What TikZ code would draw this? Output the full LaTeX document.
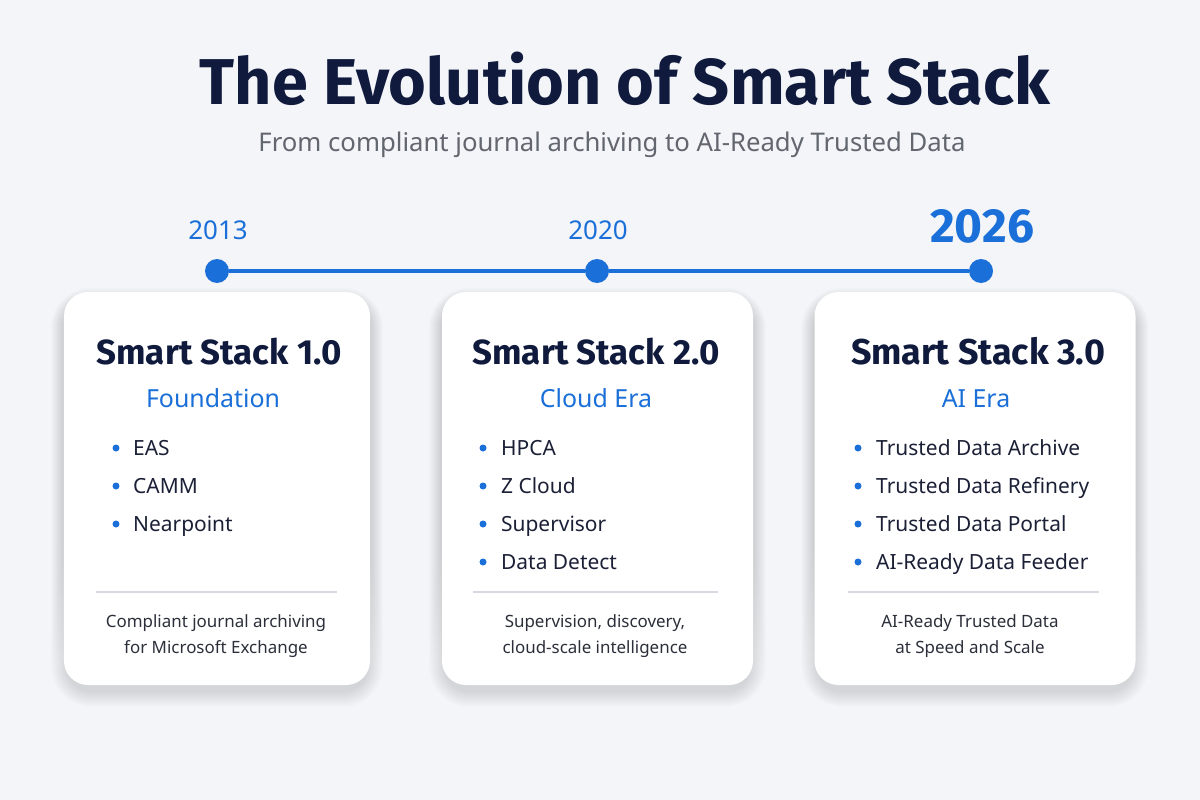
\documentclass[tikz,border=0pt]{standalone}
\usepackage{fontspec}
\setmainfont{Noto Sans}
\newfontfamily\headfont{Fira Sans}
\usetikzlibrary{shadows.blur}

\definecolor{pagebg}{HTML}{F4F5F9}
\definecolor{navy}{HTML}{0F1A3C}
\definecolor{accent}{HTML}{1A6FD8}
\definecolor{subgrey}{HTML}{62666F}
\definecolor{itemtxt}{HTML}{1B2036}
\definecolor{foottxt}{HTML}{2B2F3A}
\definecolor{rulegrey}{HTML}{D6D9DF}
\definecolor{shade}{HTML}{3A4670}

\begin{document}
\begin{tikzpicture}[x=1bp, y=-1bp,
  card/.style={fill=white, rounded corners=24bp, inner sep=0pt,
    minimum width=#1, minimum height=393bp},
  heading/.style={font=\headfont\bfseries\fontsize{35}{40}\selectfont, text=navy, anchor=base, inner sep=0pt},
  era/.style={font=\fontsize{25}{30}\selectfont, text=accent, anchor=base, inner sep=0pt},
  item/.style={font=\fontsize{21}{25}\selectfont, text=itemtxt, anchor=base west, inner sep=0pt},
  foot/.style={font=\fontsize{17}{22}\selectfont, text=foottxt, anchor=base, inner sep=0pt},
  dotmark/.style={circle, fill=accent, minimum size=7bp, inner sep=0pt},
  tdot/.style={circle, fill=accent, minimum size=24bp, inner sep=0pt},
  year/.style={font=\fontsize{26}{30}\selectfont, text=accent, anchor=base, inner sep=0pt},
  tline/.style={accent, line width=4bp},
  divider/.style={rulegrey, line width=1.2bp}]

\fill[pagebg] (0,0) rectangle (1200,800);
\useasboundingbox (0,0) rectangle (1200,800);

% heading
\node[font=\headfont\bfseries\fontsize{65}{72}\selectfont, text=navy, anchor=base, inner sep=0pt] (title) at (625,105) {The Evolution of Smart Stack};
\node[font=\fontsize{25.8}{28}\selectfont, text=subgrey, anchor=base, inner sep=0pt] (subtitle) at (612,151) {From compliant journal archiving to AI-Ready Trusted Data};

% timeline
\node[tdot] (t1) at (217,271) {};
\node[tdot] (t2) at (597,271) {};
\node[tdot] (t3) at (981,271) {};
\draw[tline] (t1) -- (t2);
\draw[tline] (t2) -- (t3);
\node[year] (y1) at (218,239) {2013};
\node[year] (y2) at (598,239) {2020};
\node[year, font=\headfont\bfseries\fontsize{48}{52}\selectfont] (y3) at (982,242) {2026};

% soft shadows under the cards
\foreach \cx/\w in {217/306, 597.5/311, 975/321}
  \foreach \k in {1,...,16}
    \fill[shade, opacity=0.009, rounded corners={(24+\k)*1bp}]
      ({\cx-\w/2-\k+3},{292-\k+12}) rectangle ({\cx+\w/2+\k-3},{685+\k+6});

% cards
\node[card=306bp] (card1) at (217,488.5) {};
\node[card=311bp] (card2) at (597.5,488.5) {};
\node[card=321bp] (card3) at (975,488.5) {};

% card 1
\node[heading] (h1) at (219,364) {Smart Stack 1.0};
\node[era] (e1) at (213,407) {Foundation};
\foreach \txt [count=\i] in {EAS, CAMM, Nearpoint} {
  \node[dotmark] (b1-\i) at (116,{410+38*\i}) {};
  \node[item] (i1-\i) at (133,{417+38*\i}) {\txt};
}
\draw[divider] (96,592) -- (337,592);
\node[foot] (f1a) at (216,627) {Compliant journal archiving};
\node[foot] (f1b) at (216,653) {for Microsoft Exchange};

% card 2
\node[heading] (h2) at (596,364) {Smart Stack 2.0};
\node[era] (e2) at (596,407) {Cloud Era};
\foreach \txt [count=\i] in {HPCA, Z Cloud, Supervisor, Data Detect} {
  \node[dotmark] (b2-\i) at (483,{410+38*\i}) {};
  \node[item] (i2-\i) at (501,{417+38*\i}) {\txt};
}
\draw[divider] (473,592) -- (718,592);
\node[foot] (f2a) at (595,627) {Supervision, discovery,};
\node[foot] (f2b) at (595,653) {cloud-scale intelligence};

% card 3
\node[heading, font=\headfont\bfseries\fontsize{36}{40}\selectfont] (h3) at (978,364) {Smart Stack 3.0};
\node[era] (e3) at (976,407) {AI Era};
\foreach \txt [count=\i] in {Trusted Data Archive, Trusted Data Refinery, Trusted Data Portal, AI-Ready Data Feeder} {
  \node[dotmark] (b3-\i) at (858,{410+38*\i}) {};
  \node[item] (i3-\i) at (876,{417+38*\i}) {\txt};
}
\draw[divider] (848,592) -- (1099,592);
\node[foot] (f3a) at (970,627) {AI-Ready Trusted Data};
\node[foot] (f3b) at (970,653) {at Speed and Scale};

\end{tikzpicture}
\end{document}
